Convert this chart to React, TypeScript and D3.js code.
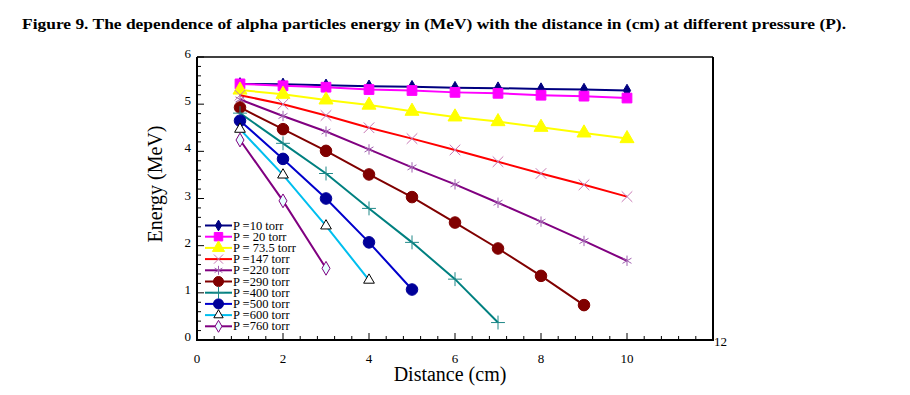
import React from "react";
import * as d3 from "d3";

// distance (cm) at which energy was measured
const distances = [1, 2, 3, 4, 5, 6, 7, 8, 9, 10];

const seriesNames = [
  "P =10 torr",
  "P = 20 torr",
  "P = 73.5 torr",
  "P =147 torr",
  "P =220 torr",
  "P =290 torr",
  "P =400 torr",
  "P =500 torr",
  "P =600 torr",
  "P =760 torr",
];

// energy (MeV) per series
const p10 = [5.43, 5.42, 5.40, 5.38, 5.37, 5.35, 5.34, 5.32, 5.31, 5.29];
const p20 = [5.43, 5.39, 5.36, 5.31, 5.29, 5.25, 5.23, 5.19, 5.17, 5.13];
const p735 = [5.3, 5.21, 5.09, 4.98, 4.85, 4.73, 4.63, 4.51, 4.39, 4.27];
const p147 = [5.19, 5.0, 4.76, 4.5, 4.27, 4.03, 3.78, 3.53, 3.29, 3.04];
const p220 = [5.1, 4.75, 4.42, 4.04, 3.66, 3.3, 2.91, 2.51, 2.1, 1.68];
const p290 = [4.93, 4.47, 4.01, 3.51, 3.03, 2.49, 1.94, 1.36, 0.74];
const p400 = [4.81, 4.17, 3.53, 2.79, 2.07, 1.29, 0.37];
const p500 = [4.65, 3.84, 3.0, 2.07, 1.07];
const p600 = [4.47, 3.5, 2.42, 1.27];
const p760 = [4.24, 2.95, 1.52];

const seriesValues = [p10, p20, p735, p147, p220, p290, p400, p500, p600, p760];

const xTicks = [0, 2, 4, 6, 8, 10];
const yTicks = [0, 1, 2, 3, 4, 5, 6];

const titleText =
  "Figure 9. The dependence of alpha particles energy in (MeV) with the distance in (cm) at different pressure (P).";

type Style = {
  line: string;
  symbol: d3.SymbolType;
  size: number;
  fill: string;
  stroke: string;
};

const styles: Style[] = [
  { line: "#000080", symbol: d3.symbolDiamond, size: 45, fill: "#000080", stroke: "#000080" },
  { line: "#ff00ff", symbol: d3.symbolSquare, size: 95, fill: "#ff00ff", stroke: "#ff00ff" },
  { line: "#ffff00", symbol: d3.symbolTriangle, size: 85, fill: "#ffff00", stroke: "#ffff00" },
  { line: "#ff0000", symbol: d3.symbolTimes, size: 75, fill: "none", stroke: "#c878b4" },
  { line: "#800080", symbol: d3.symbolAsterisk, size: 75, fill: "none", stroke: "#a060b0" },
  { line: "#800000", symbol: d3.symbolCircle, size: 105, fill: "#800000", stroke: "#800000" },
  { line: "#008080", symbol: d3.symbolPlus, size: 65, fill: "none", stroke: "#208888" },
  { line: "#0000cc", symbol: d3.symbolCircle, size: 105, fill: "#000099", stroke: "#000099" },
  { line: "#00bfef", symbol: d3.symbolTriangle, size: 50, fill: "#ffffff", stroke: "#000000" },
  { line: "#800080", symbol: d3.symbolDiamond, size: 55, fill: "#e6ffff", stroke: "#800080" },
];

const serif = "'Liberation Serif', 'Times New Roman', serif";

export default function App() {
  const width = 910;
  const height = 395;
  const left = 197;
  const right = 713;
  const top = 57;
  const bottom = 340;

  const x = d3.scaleLinear().domain([0, 12]).range([left, right]);
  const y = d3.scaleLinear().domain([0, 6]).range([bottom, top]);

  const line = d3
    .line<number>()
    .x((_, i) => x(distances[i]))
    .y((d) => y(d));

  const xMinor = d3.range(0, 12.001, 0.4);
  const yMinor = d3.range(0, 6.001, 0.2);

  const legendX = 205;
  const legendY0 = 225.5;
  const legendStep = 11.2;

  return (
    <svg
      width={width}
      height={height}
      style={{ position: "absolute", left: 0, top: 0, background: "#fff" }}
      fontFamily={serif}
    >
      <text
        x={22}
        y={29}
        fontSize={15.5}
        fontWeight="bold"
        textLength={824}
        lengthAdjust="spacingAndGlyphs"
      >
        {titleText}
      </text>

      {/* frame */}
      <line x1={left} x2={left} y1={top} y2={bottom + 1} stroke="#000" strokeWidth={2} />
      <line x1={left} x2={right + 1} y1={bottom} y2={bottom} stroke="#000" strokeWidth={2} />
      <line x1={left} x2={right} y1={top} y2={top} stroke="#000" strokeWidth={1.5} />
      <line x1={right} x2={right} y1={top} y2={bottom + 1} stroke="#000" strokeWidth={2} />

      {/* minor / major ticks */}
      {yMinor.map((v, i) => (
        <line
          key={"ym" + i}
          x1={left}
          x2={left + (i % 5 === 0 ? 7 : 4)}
          y1={y(v)}
          y2={y(v)}
          stroke="#000"
          strokeWidth={1}
        />
      ))}
      {xMinor.map((v, i) => (
        <line
          key={"xm" + i}
          x1={x(v)}
          x2={x(v)}
          y1={bottom}
          y2={bottom - (i % 5 === 0 ? 7 : 4)}
          stroke="#000"
          strokeWidth={1}
        />
      ))}

      {yTicks.map((t) => (
        <text key={"yt" + t} x={191} y={y(t) + 1} fontSize={13} textAnchor="end">
          {t}
        </text>
      ))}
      {xTicks.map((t) => (
        <text key={"xt" + t} x={x(t)} y={363} fontSize={13} textAnchor="middle">
          {t}
        </text>
      ))}
      <text x={right + 1} y={346} fontSize={13}>
        12
      </text>

      <text x={450} y={381} fontSize={20} textAnchor="middle">
        Distance (cm)
      </text>
      <text
        transform={`translate(162, 184) rotate(-90)`}
        fontSize={20}
        textAnchor="middle"
      >
        Energy (MeV)
      </text>

      {/* series */}
      {seriesValues.map((vals, si) => {
        const st = styles[si];
        const sym = d3.symbol().type(st.symbol).size(st.size)() as string;
        return (
          <g key={"s" + si}>
            <path d={line(vals) as string} fill="none" stroke={st.line} strokeWidth={2} />
            {vals.map((v, i) => (
              <path
                key={i}
                d={sym}
                transform={`translate(${x(distances[i])},${y(v)})`}
                fill={st.fill}
                stroke={st.stroke}
                strokeWidth={1}
              />
            ))}
          </g>
        );
      })}

      {/* legend */}
      {seriesNames.map((name, i) => {
        const st = styles[i];
        const ly = legendY0 + i * legendStep;
        const sym = d3.symbol().type(st.symbol).size(st.size * 0.75)() as string;
        return (
          <g key={"lg" + i}>
            <line x1={legendX} x2={legendX + 27} y1={ly} y2={ly} stroke={st.line} strokeWidth={2} />
            <path
              d={sym}
              transform={`translate(${legendX + 13.5},${ly})`}
              fill={st.fill}
              stroke={st.stroke}
              strokeWidth={1}
            />
            <text x={legendX + 28} y={ly + 4} fontSize={12.5}>
              {name}
            </text>
          </g>
        );
      })}
    </svg>
  );
}
